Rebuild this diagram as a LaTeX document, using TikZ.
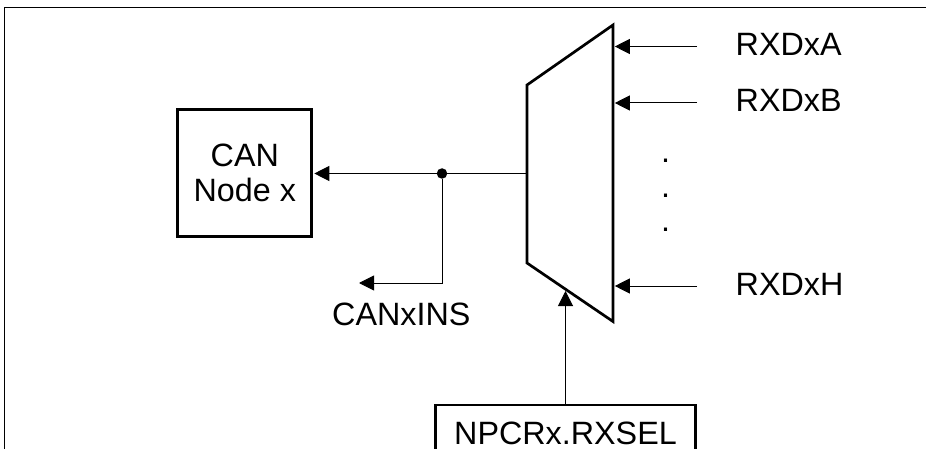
\documentclass[tikz,border=0pt]{standalone}
\usepackage{fontspec}
\setmainfont{Liberation Sans}
\usetikzlibrary{arrows.meta}
\tikzset{
  lbl/.style={inner sep=0pt,anchor=base west,font=\fontsize{32.3}{35}\selectfont},
  heavy/.style={draw=black,line width=2.7pt,line join=miter},
  wire/.style={draw=black,line width=1pt},
  arr/.style={wire,-{Triangle[length=15pt,width=15pt]},shorten >=0pt},
  blk/.style={heavy,inner sep=0pt,align=center,font=\fontsize{32.3}{35}\selectfont},
  dotmark/.style={circle,fill=black,inner sep=0pt,minimum size=10.5pt},
}
\begin{document}
\begin{tikzpicture}[x=1pt,y=-1pt]
\useasboundingbox (0,0) rectangle (926,449);
\clip (0,0) rectangle (926,449);
% frame
\coordinate (fa) at (4.5,449);
\coordinate (fb) at (4.5,7.5);
\coordinate (fc) at (926,7.5);
\draw[line width=1.1pt] (fa) -- (fb) -- (fc);
% CAN block
\node[blk,minimum width=134pt,minimum height=127pt] (can) at (244.8,173) {CAN\\[-0.5pt]Node x};
% selector block
\node[blk,minimum width=260pt,minimum height=56pt] (sel) at (565.5,433) {NPCRx.RXSEL};
% multiplexer
\coordinate (m1) at (527,85);
\coordinate (m2) at (613,25);
\coordinate (m3) at (613,321.5);
\coordinate (m4) at (527,263);
\draw[heavy] (m1) -- (m2) -- (m3) -- (m4) -- cycle;
% mux pins
\coordinate (pout) at (527,173.5);
\coordinate (pa) at (614.8,46.5);
\coordinate (pb) at (614.8,103);
\coordinate (ph) at (614.8,286);
\coordinate (psel) at (565.5,291);
% input stubs
\coordinate (ia) at (697,46.5);
\coordinate (ib) at (697,103);
\coordinate (ih) at (697,286);
% labels
\node[lbl] (ta) at (735.5,55.5) {RXDxA};
\node[lbl] (tb) at (735.5,111.5) {RXDxB};
\node[lbl] (th) at (735.5,295) {RXDxH};
\node[lbl] (d1) at (661,162.5) {.};
\node[lbl] (d2) at (661,197.5) {.};
\node[lbl] (d3) at (661,231.5) {.};
\node[lbl] (ins) at (332,325) {CANxINS};
% junction and branch
\node[dotmark] (j) at (442,173.5) {};
\coordinate (canin) at (314.3,173.5);
\coordinate (bend) at (442,283);
\coordinate (insend) at (359,283);
% connectors
\draw[wire] (pout) -- (j);
\draw[arr] (j) -- (canin);
\draw[arr] (j) -- (bend) -- (insend);
\draw[arr] (ia) -- (pa);
\draw[arr] (ib) -- (pb);
\draw[arr] (ih) -- (ph);
\draw[arr] (sel.north) -- (psel);
\end{tikzpicture}
\end{document}
